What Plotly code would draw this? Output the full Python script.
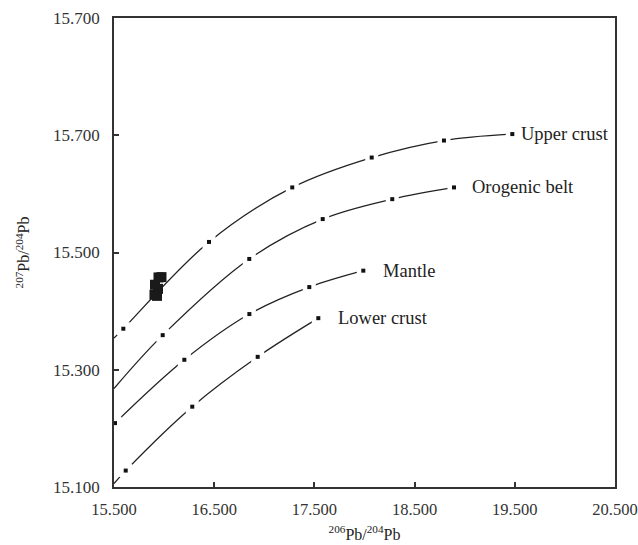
import plotly.graph_objects as go

# Model curves (206Pb/204Pb, 207Pb/204Pb): line start on the axis + time-step points
upper_x = [15.500, 15.593, 16.448, 17.279, 18.072, 18.793, 19.475]
upper_y = [15.354, 15.370, 15.518, 15.611, 15.662, 15.691, 15.702]
orogen_x = [15.500, 15.986, 16.850, 17.583, 18.277, 18.893]
orogen_y = [15.268, 15.359, 15.489, 15.557, 15.591, 15.611]
mantle_x = [15.510, 16.202, 16.851, 17.449, 17.988]
mantle_y = [15.209, 15.317, 15.395, 15.441, 15.469]
lower_x = [15.500, 15.617, 16.281, 16.934, 17.539]
lower_y = [15.106, 15.128, 15.237, 15.322, 15.388]

# which indices of each curve are time-step markers
upper_marks = [1, 2, 3, 4, 5, 6]
orogen_marks = [1, 2, 3, 4, 5]
mantle_marks = [0, 1, 2, 3, 4]
lower_marks = [1, 2, 3, 4]

curve_names = ["Upper crust", "Orogenic belt", "Mantle", "Lower crust"]

# Samples
sample_x = [15.944, 15.974, 15.909, 15.939, 15.904, 15.929]
sample_y = [15.4575, 15.458, 15.445, 15.438, 15.428, 15.426]

x_ticks = [15.5, 16.5, 17.5, 18.5, 19.5, 20.5]
x_ticktext = ["15.500", "16.500", "17.500", "18.500", "19.500", "20.500"]
y_ticks = [15.1, 15.3, 15.5, 15.7, 15.9]
y_ticktext = ["15.100", "15.300", "15.500", "15.700", "15.700"]

curves = [
    (upper_x, upper_y, upper_marks),
    (orogen_x, orogen_y, orogen_marks),
    (mantle_x, mantle_y, mantle_marks),
    (lower_x, lower_y, lower_marks),
]
label_shift = [7, 16, 18, 18]

FONT = "Liberation Serif, Times New Roman, serif"

fig = go.Figure()
for cx, cy, mk in curves:
    fig.add_trace(go.Scatter(x=cx, y=cy, mode="lines",
                             line=dict(color="#222", width=1.3, shape="spline", smoothing=1),
                             hoverinfo="skip", showlegend=False))
for cx, cy, mk in curves:
    mx = [cx[i] for i in mk]
    my = [cy[i] for i in mk]
    fig.add_trace(go.Scatter(x=mx, y=my, mode="markers",
                             marker=dict(symbol="square", size=13, color="white"),
                             hoverinfo="skip", showlegend=False, cliponaxis=False))
    fig.add_trace(go.Scatter(x=mx, y=my, mode="markers",
                             marker=dict(symbol="square", size=4, color="#111"),
                             showlegend=False, cliponaxis=False))

fig.add_trace(go.Scatter(x=sample_x, y=sample_y, mode="markers",
                         marker=dict(symbol="square", size=10, color="#1a1a1a"),
                         showlegend=False))

for (cx, cy, mk), name, sh in zip(curves, curve_names, label_shift):
    fig.add_annotation(x=cx[-1], y=cy[-1], text=name, showarrow=False,
                       xanchor="left", yanchor="middle", xshift=sh,
                       font=dict(family=FONT, size=18.5, color="#222"))

axis_common = dict(showgrid=False, zeroline=False, showline=True, linecolor="#333",
                   linewidth=1.5, mirror=True, ticks="inside", ticklen=5,
                   tickcolor="#333", tickwidth=1.5, automargin=False)

fig.update_xaxes(range=[15.5, 20.5], tickvals=x_ticks, ticktext=x_ticktext,
                 ticklabelstandoff=6,
                 tickfont=dict(family=FONT, size=16.5, color="#333"),
                 title=dict(text="<sup>206</sup>Pb/<sup>204</sup>Pb",
                            font=dict(family=FONT, size=16, color="#222"), standoff=11),
                 **axis_common)
fig.update_yaxes(range=[15.1, 15.9], tickvals=y_ticks, ticktext=y_ticktext,
                 ticklabelstandoff=9,
                 tickfont=dict(family=FONT, size=17, color="#333"),
                 title=dict(text="<sup>207</sup>Pb/<sup>204</sup>Pb",
                            font=dict(family=FONT, size=16, color="#222"), standoff=19),
                 **axis_common)

fig.update_layout(width=638, height=545, plot_bgcolor="white", paper_bgcolor="white",
                  margin=dict(l=114, r=23, t=18, b=58), hovermode=False)

fig.write_html("out.html", config={"displayModeBar": False},
               post_script="document.body.style.margin='0';")
